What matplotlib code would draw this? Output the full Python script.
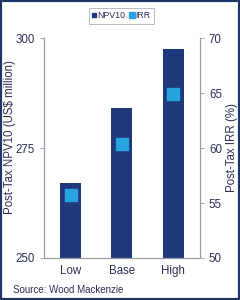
import matplotlib
matplotlib.use("Agg")
import matplotlib.pyplot as plt
from matplotlib.patches import Rectangle
from matplotlib.lines import Line2D

categories = ["Low", "Base", "High"]
npv10 = [267, 284, 297.5]
irr = [55.7, 60.4, 64.9]

plt.rcParams['font.family'] = ['Liberation Sans', 'DejaVu Sans']
txt = '#2b2f55'
bar_c = '#1e3a7b'
irr_c = '#27a4de'
spine_c = '#9a9aa6'

fig = plt.figure(figsize=(2.4, 3.0), dpi=100)
ax = fig.add_axes([0.183, 0.14, 0.65, 0.733])
x = list(range(len(categories)))
ax.bar(x, npv10, width=0.41, color=bar_c, zorder=2)
ax.set_xlim(-0.52, 2.52)
ax.set_ylim(250, 300)
ax.set_yticks([250, 275, 300])
ax.set_xticks(x)
ax.set_xticklabels(categories)
ax.set_ylabel("Post-Tax NPV10 (US$ million)", fontsize=8.3, color=txt)
ax.yaxis.set_label_coords(-0.18, 0.548)

ax2 = ax.twinx()
ax2.plot(x, irr, linestyle='none', marker='s', markersize=8.5, color=irr_c, zorder=3)
ax2.set_ylim(50, 70)
ax2.set_yticks([50, 55, 60, 65, 70])
ax2.set_ylabel("Post-Tax IRR (%)", fontsize=8.3, color=txt)
ax2.yaxis.set_label_coords(1.165, 0.502)

for a in (ax, ax2):
    a.spines['top'].set_visible(False)
    for s in ('left', 'right', 'bottom'):
        a.spines[s].set_color(spine_c)
        a.spines[s].set_linewidth(0.8)
    a.tick_params(axis='both', colors=spine_c, labelcolor=txt, labelsize=8.3, length=3, width=0.6)
ax.tick_params(axis='x', length=0, pad=5)

handles = [Line2D([], [], linestyle='none', marker='s', markersize=3, color=bar_c, label='NPV10'),
           Line2D([], [], linestyle='none', marker='s', markersize=5, color=irr_c, label='IRR')]
leg = fig.legend(handles=handles, loc='center', ncol=2,
                 fontsize=6.3, frameon=True, handlelength=0.5, handletextpad=0.15,
                 columnspacing=0.5, borderpad=0.35, fancybox=False)
leg.set_bbox_to_anchor((0.505, 1 - 16 / 300), transform=fig.transFigure)
leg.get_frame().set_edgecolor('#9a9aa6')
leg.get_frame().set_linewidth(0.6)
for t in leg.get_texts():
    t.set_color(txt)

fig.text(0.055, 1 - 290 / 300, "Source: Wood Mackenzie", fontsize=7, color=txt, va='center', ha='left')

fig.patches.append(Rectangle((0, 0), 1, 1, transform=fig.transFigure, fill=False,
                             edgecolor='#1f3566', linewidth=3, zorder=10))

fig.savefig("out.png", dpi=100)
